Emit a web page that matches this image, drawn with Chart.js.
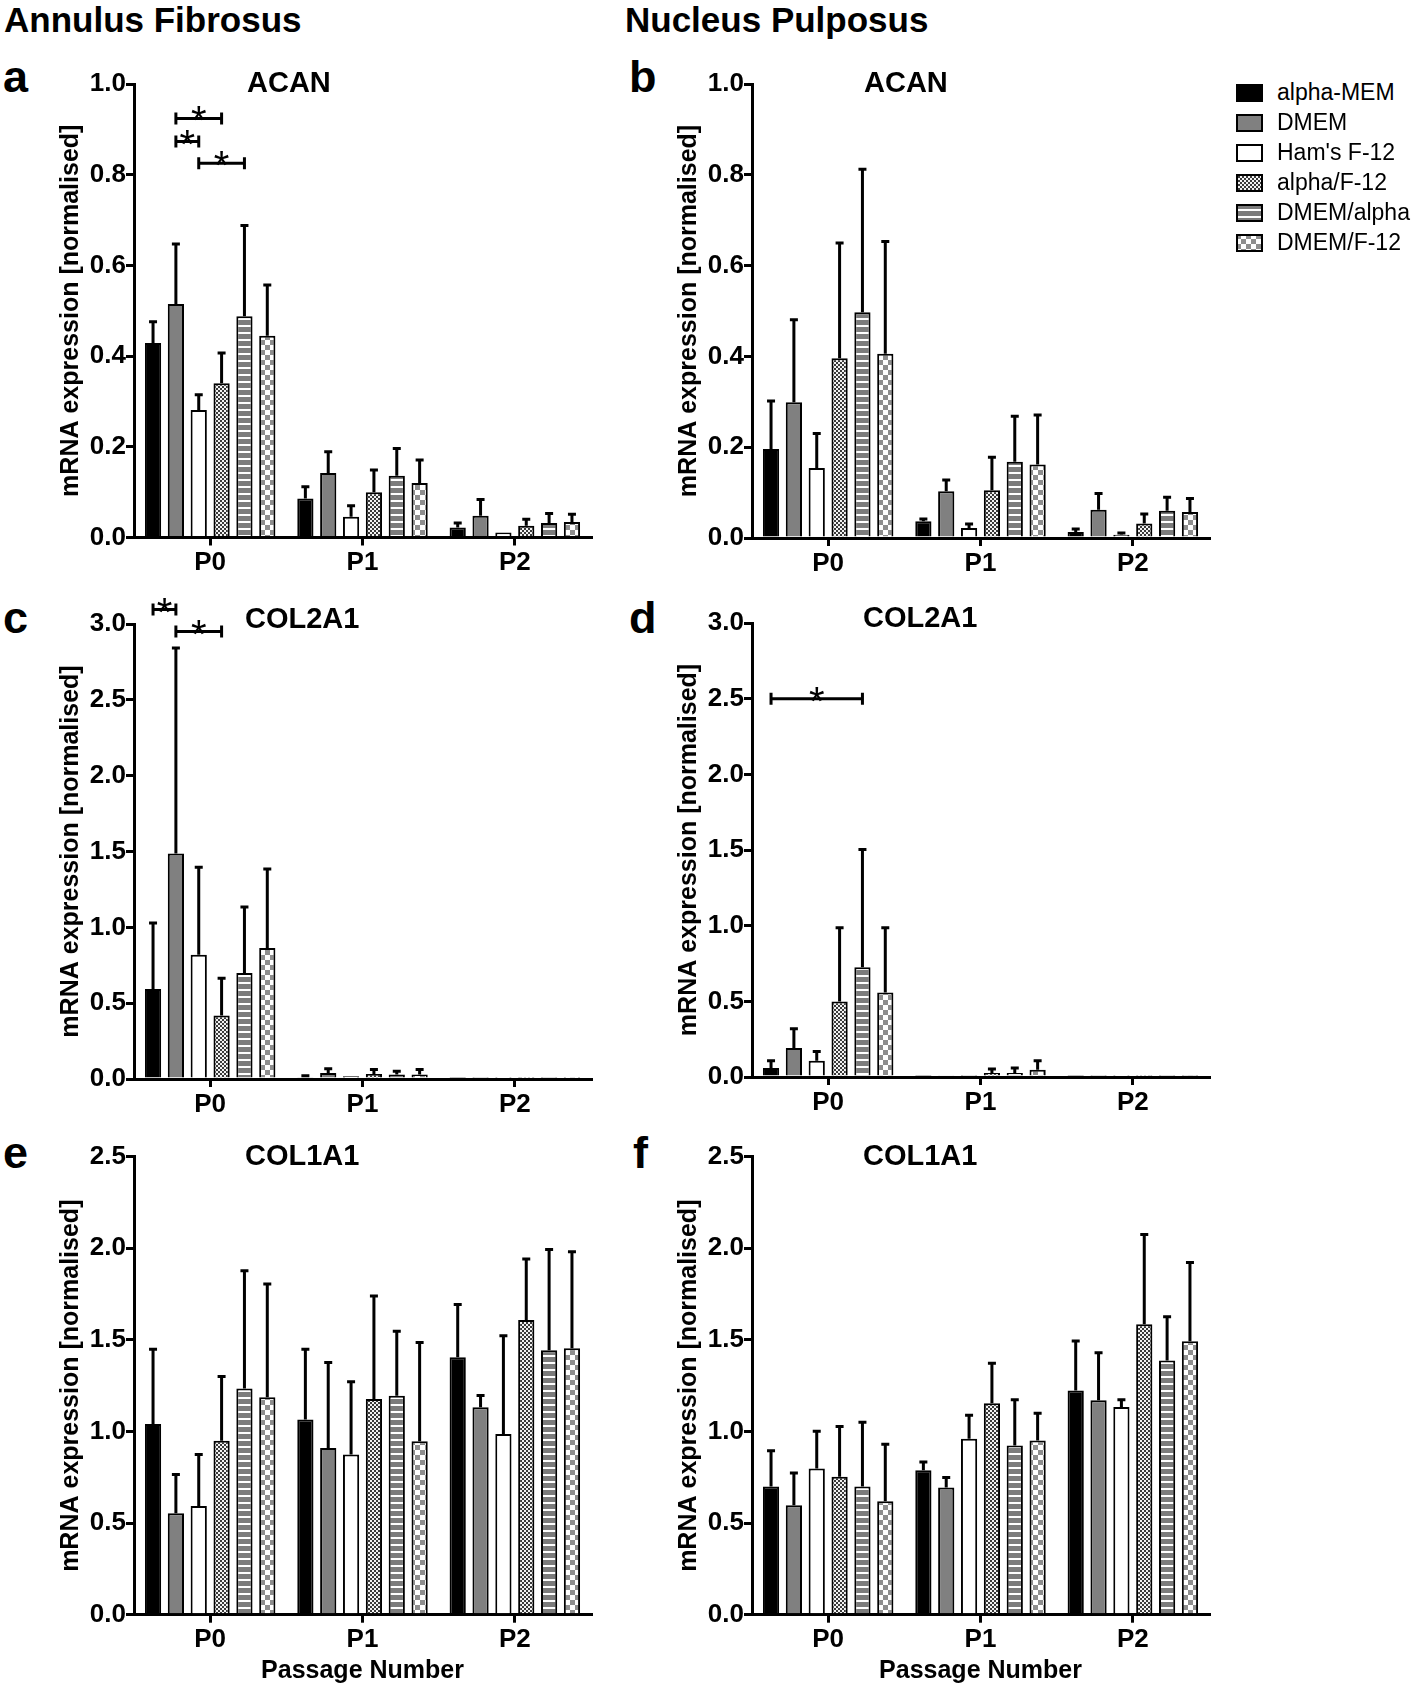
<!DOCTYPE html>
<html>
<head>
<meta charset="utf-8">
<title>mRNA expression by passage</title>
<script src="https://cdn.jsdelivr.net/npm/chart.js@4.4.1/dist/chart.umd.min.js"></script>
<style>
    body { margin: 0; background: #fff; }
    #page { position: relative; width: 1418px; height: 1686px; background: #fff; overflow: hidden;
            font-family: "Liberation Sans", Arial, sans-serif; color: #000; }
    .txt { position: absolute; white-space: nowrap; line-height: 1; }
    .head { font-size: 35px; font-weight: bold; }
    .letter { font-size: 45px; font-weight: bold; }
    .gene { font-size: 29px; font-weight: bold; }
    .panel { position: absolute; }
    .key { position: absolute; left: 1236px; height: 30px; display: flex; align-items: center; font-size: 23px; white-space: nowrap; }
    .key canvas { margin-right: 14px; }
</style>
</head>
<body>
<div id="page">
    <div class="txt head" style="left:4px; top:2px;">Annulus Fibrosus</div>
    <div class="txt head" style="left:625px; top:2px;">Nucleus Pulposus</div>

    <div class="txt letter" style="left:3px; top:54px;">a</div>
    <div class="txt letter" style="left:629px; top:54px;">b</div>
    <div class="txt letter" style="left:3px; top:595px;">c</div>
    <div class="txt letter" style="left:629px; top:595px;">d</div>
    <div class="txt letter" style="left:3px; top:1130px;">e</div>
    <div class="txt letter" style="left:633px; top:1130px;">f</div>

    <canvas id="panelA" class="panel" width="610" height="545" style="left:0; top:40px;"></canvas>
    <canvas id="panelB" class="panel" width="610" height="545" style="left:618px; top:40px;"></canvas>
    <canvas id="panelC" class="panel" width="610" height="555" style="left:0; top:585px;"></canvas>
    <canvas id="panelD" class="panel" width="610" height="555" style="left:618px; top:585px;"></canvas>
    <canvas id="panelE" class="panel" width="610" height="546" style="left:0; top:1140px;"></canvas>
    <canvas id="panelF" class="panel" width="610" height="546" style="left:618px; top:1140px;"></canvas>

    <div class="txt gene" style="left:247px; top:68px;">ACAN</div>
    <div class="txt gene" style="left:864px; top:68px;">ACAN</div>
    <div class="txt gene" style="left:245px; top:604px;">COL2A1</div>
    <div class="txt gene" style="left:863px; top:603px;">COL2A1</div>
    <div class="txt gene" style="left:245px; top:1141px;">COL1A1</div>
    <div class="txt gene" style="left:863px; top:1141px;">COL1A1</div>

    <div id="legend"></div>
</div>

<script>
// ===== data =====
const passages = ['P0', 'P1', 'P2'];
const media = ['alpha-MEM', 'DMEM', "Ham's F-12", 'alpha/F-12', 'DMEM/alpha', 'DMEM/F-12'];

// one row per medium, values for P0, P1, P2 ; "High" = top of the error bar
const acanAfMean = [[0.429, 0.086, 0.022], [0.515, 0.142, 0.048], [0.281, 0.046, 0.011],
                    [0.340, 0.100, 0.026], [0.488, 0.136, 0.032], [0.445, 0.120, 0.034]];
const acanAfHigh = [[0.476, 0.112, 0.032], [0.647, 0.189, 0.084], [0.315, 0.070, 0.013],
                    [0.407, 0.149, 0.040], [0.688, 0.196, 0.053], [0.557, 0.171, 0.051]];

const acanNpMean = [[0.196, 0.037, 0.013], [0.299, 0.103, 0.062], [0.154, 0.022, 0.007],
                    [0.396, 0.105, 0.032], [0.497, 0.168, 0.060], [0.406, 0.162, 0.057]];
const acanNpHigh = [[0.302, 0.042, 0.020], [0.481, 0.128, 0.098], [0.230, 0.031, 0.011],
                    [0.650, 0.178, 0.053], [0.812, 0.268, 0.090], [0.653, 0.271, 0.087]];

const col2AfMean = [[0.593, 0.011, 0.003], [1.486, 0.040, 0.004], [0.820, 0.018, 0.002],
                    [0.418, 0.033, 0.003], [0.699, 0.029, 0.003], [0.864, 0.029, 0.003]];
const col2AfHigh = [[1.029, 0.022, 0.004], [2.842, 0.068, 0.005], [1.396, 0.020, 0.003],
                    [0.664, 0.062, 0.004], [1.134, 0.051, 0.004], [1.385, 0.062, 0.004]];

const col2NpMean = [[0.059, 0.003, 0.002], [0.191, 0.008, 0.003], [0.108, 0.005, 0.002],
                    [0.499, 0.026, 0.003], [0.726, 0.026, 0.003], [0.559, 0.048, 0.005]];
const col2NpHigh = [[0.108, 0.004, 0.003], [0.319, 0.011, 0.004], [0.169, 0.006, 0.003],
                    [0.987, 0.053, 0.004], [1.504, 0.059, 0.004], [0.987, 0.108, 0.007]];

const col1AfMean = [[1.041, 1.066, 1.405], [0.554, 0.910, 1.132], [0.593, 0.875, 0.986],
                    [0.949, 1.177, 1.609], [1.235, 1.195, 1.444], [1.187, 0.947, 1.455]];
const col1AfHigh = [[1.449, 1.449, 1.693], [0.765, 1.377, 1.196], [0.875, 1.272, 1.523],
                    [1.300, 1.739, 1.942], [1.877, 1.547, 1.994], [1.805, 1.486, 1.981]];

const col1NpMean = [[0.700, 0.788, 1.224], [0.597, 0.695, 1.171], [0.798, 0.961, 1.134],
                    [0.753, 1.154, 1.586], [0.700, 0.924, 1.387], [0.619, 0.951, 1.492]];
const col1NpHigh = [[0.895, 0.833, 1.494], [0.774, 0.749, 1.430], [1.002, 1.089, 1.173],
                    [1.027, 1.372, 2.076], [1.051, 1.173, 1.626], [0.930, 1.099, 1.922]];

// significance brackets at P0: [from medium, to medium, height]
const acanAfSig = [[1, 3, 0.924], [1, 2, 0.873], [2, 4, 0.825]];
const col2AfSig = [[0, 1, 3.095], [1, 3, 2.95]];
const col2NpSig = [[0, 4, 2.50]];

const yTitle = 'mRNA expression [normalised]';
const xTitle = 'Passage Number';

// ===== fills (solid + patterns) =====
function tile(w, h, paint) {
    const c = document.createElement('canvas');
    c.width = w;
    c.height = h;
    const g = c.getContext('2d');
    paint(g);
    return g.createPattern(c, 'repeat');
}

const fills = [
    '#000000',
    '#808080',
    '#ffffff',
    tile(4, 4, g => {
        g.fillStyle = '#f2f2f2'; g.fillRect(0, 0, 4, 4);
        g.fillStyle = '#3a3a3a'; g.fillRect(0, 0, 2, 2); g.fillRect(2, 2, 2, 2);
    }),
    tile(7, 7, g => {
        g.fillStyle = '#7c7c7c'; g.fillRect(0, 0, 7, 7);
        g.fillStyle = '#ffffff'; g.fillRect(0, 5, 7, 2);
    }),
    tile(10, 10, g => {
        g.fillStyle = '#ffffff'; g.fillRect(0, 0, 10, 10);
        g.fillStyle = '#8e8e8e'; g.fillRect(0, 0, 5, 5); g.fillRect(5, 5, 5, 5);
    })
];

Chart.defaults.font.family = '"Liberation Sans", Arial, sans-serif';
Chart.defaults.color = '#000';

// ===== plugins =====
// one-sided error bars (mean -> high)
const errorBars = {
    id: 'errorBars',
    afterDatasetsDraw(chart) {
        const ctx = chart.ctx;
        const yScale = chart.scales.y;
        ctx.save();
        ctx.strokeStyle = '#000';
        ctx.lineWidth = 3;
        chart.data.datasets.forEach((ds, i) => {
            chart.getDatasetMeta(i).data.forEach((bar, j) => {
                const top = yScale.getPixelForValue(ds.high[j]);
                if (bar.y - top < 1) return;
                ctx.beginPath();
                ctx.moveTo(bar.x, bar.y);
                ctx.lineTo(bar.x, top);
                ctx.moveTo(bar.x - 4, top);
                ctx.lineTo(bar.x + 4, top);
                ctx.stroke();
            });
        });
        ctx.restore();
    }
};

// "*" brackets between two bars of the first group
function sigBrackets(pairs) {
    return {
        id: 'sigBrackets',
        afterDraw(chart) {
            const ctx = chart.ctx;
            const yScale = chart.scales.y;
            ctx.save();
            ctx.strokeStyle = '#000';
            ctx.fillStyle = '#000';
            ctx.lineWidth = 3;
            ctx.font = '40px "Liberation Sans", Arial, sans-serif';
            ctx.textAlign = 'center';
            ctx.textBaseline = 'alphabetic';
            pairs.forEach(([a, b, level]) => {
                const x1 = chart.getDatasetMeta(a).data[0].x;
                const x2 = chart.getDatasetMeta(b).data[0].x;
                const py = yScale.getPixelForValue(level);
                ctx.beginPath();
                ctx.moveTo(x1, py); ctx.lineTo(x2, py);
                ctx.moveTo(x1, py - 6); ctx.lineTo(x1, py + 6);
                ctx.moveTo(x2, py - 6); ctx.lineTo(x2, py + 6);
                ctx.stroke();
                ctx.fillText('*', (x1 + x2) / 2, py + 16);
            });
            ctx.restore();
        }
    };
}

// ===== panel builder =====
function drawPanel(id, means, highs, yMax, yStep, sig, box) {
    const canvas = document.getElementById(id);
    const ctx = canvas.getContext('2d');

    new Chart(ctx, {
        type: 'bar',
        data: {
            labels: passages,
            datasets: media.map((name, i) => ({
                label: name,
                data: means[i],
                high: highs[i],
                backgroundColor: fills[i],
                borderColor: '#000',
                borderWidth: 2,
                categoryPercentage: 0.9,
                barPercentage: 0.71
            }))
        },
        options: {
            responsive: false,
            animation: false,
            events: [],
            devicePixelRatio: 1,
            layout: {
                padding: { top: box.areaTop - box.top, left: 0, right: 19, bottom: 0 }
            },
            plugins: {
                legend: { display: false },
                tooltip: { enabled: false }
            },
            scales: {
                x: {
                    offset: true,
                    grid: { display: true, drawOnChartArea: false, offset: false, tickLength: 8, color: '#000', lineWidth: 3 },
                    border: { display: true, color: '#000', width: 3 },
                    ticks: { font: { size: 26, weight: 'bold' }, color: '#000', padding: 2, maxRotation: 0 },
                    title: {
                        display: box.xTitle,
                        text: xTitle,
                        color: '#000',
                        font: { size: 25, weight: 'bold' },
                        padding: { top: 0, bottom: 0 }
                    },
                    afterFit: s => { s.height = box.top + box.height - box.areaBottom; }
                },
                y: {
                    min: 0,
                    max: yMax,
                    grid: { display: true, drawOnChartArea: false, tickLength: 8, color: '#000', lineWidth: 3 },
                    border: { display: true, color: '#000', width: 3 },
                    ticks: {
                        stepSize: yStep,
                        padding: 0,
                        color: '#000',
                        font: { size: 26, weight: 'bold' },
                        callback: v => Number(v).toFixed(1)
                    },
                    title: {
                        display: true,
                        text: yTitle,
                        color: '#000',
                        font: { size: 25, weight: 'bold' },
                        padding: { top: 56, bottom: 0 }
                    },
                    afterFit: s => { s.width = 134; }
                }
            }
        },
        plugins: [errorBars, sigBrackets(sig)]
    });
}

drawPanel('panelA', acanAfMean, acanAfHigh, 1.0, 0.2, acanAfSig,
    { top: 40, height: 545, areaTop: 84, areaBottom: 537.5, xTitle: false });
drawPanel('panelB', acanNpMean, acanNpHigh, 1.0, 0.2, [],
    { top: 40, height: 545, areaTop: 84, areaBottom: 538, xTitle: false });
drawPanel('panelC', col2AfMean, col2AfHigh, 3.0, 0.5, col2AfSig,
    { top: 585, height: 555, areaTop: 624, areaBottom: 1079, xTitle: false });
drawPanel('panelD', col2NpMean, col2NpHigh, 3.0, 0.5, col2NpSig,
    { top: 585, height: 555, areaTop: 623, areaBottom: 1077, xTitle: false });
drawPanel('panelE', col1AfMean, col1AfHigh, 2.5, 0.5, [],
    { top: 1140, height: 546, areaTop: 1156.7, areaBottom: 1614.7, xTitle: true });
drawPanel('panelF', col1NpMean, col1NpHigh, 2.5, 0.5, [],
    { top: 1140, height: 546, areaTop: 1156.7, areaBottom: 1614.7, xTitle: true });

// ===== legend (swatches use the same fills) =====
const legendEl = document.getElementById('legend');
media.forEach((name, i) => {
    const row = document.createElement('div');
    row.className = 'key';
    row.style.top = (77.5 + i * 30) + 'px';
    const sw = document.createElement('canvas');
    sw.width = 27;
    sw.height = 18;
    const g = sw.getContext('2d');
    g.fillStyle = fills[i];
    g.fillRect(0, 0, 27, 18);
    g.strokeStyle = '#000';
    g.lineWidth = 2;
    g.strokeRect(1, 1, 25, 16);
    row.appendChild(sw);
    row.appendChild(document.createTextNode(name));
    legendEl.appendChild(row);
});
</script>
</body>
</html>
